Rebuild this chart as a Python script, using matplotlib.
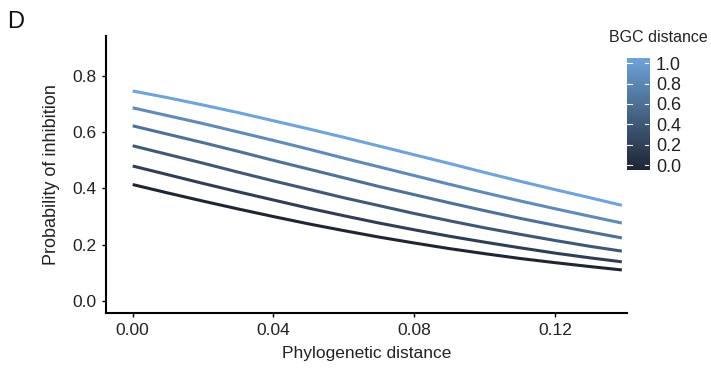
import numpy as np
import matplotlib
matplotlib.use("Agg")
import matplotlib.pyplot as plt
from matplotlib.colors import LinearSegmentedColormap

plt.rcParams["font.family"] = ["Liberation Sans", "DejaVu Sans"]

# values (one curve per BGC distance)
phylo_dist = [0.0, 0.01, 0.02, 0.03, 0.04, 0.05, 0.06, 0.07,
              0.08, 0.09, 0.10, 0.11, 0.12, 0.13, 0.139]
bgc_levels = [0.0, 0.2, 0.4, 0.6, 0.8, 1.0]
prob_bgc_00 = [0.414, 0.384, 0.355, 0.327, 0.300, 0.274, 0.250, 0.227,
               0.206, 0.186, 0.168, 0.151, 0.136, 0.122, 0.110]
prob_bgc_02 = [0.480, 0.449, 0.418, 0.388, 0.359, 0.330, 0.303, 0.277,
               0.253, 0.230, 0.209, 0.189, 0.170, 0.153, 0.139]
prob_bgc_04 = [0.552, 0.521, 0.490, 0.458, 0.427, 0.397, 0.367, 0.339,
               0.311, 0.285, 0.260, 0.237, 0.215, 0.194, 0.177]
prob_bgc_06 = [0.623, 0.593, 0.563, 0.532, 0.500, 0.469, 0.438, 0.407,
               0.378, 0.349, 0.321, 0.294, 0.269, 0.245, 0.224]
prob_bgc_08 = [0.687, 0.659, 0.631, 0.601, 0.571, 0.540, 0.508, 0.477,
               0.446, 0.415, 0.385, 0.356, 0.328, 0.301, 0.277]
prob_bgc_10 = [0.747, 0.723, 0.697, 0.670, 0.641, 0.612, 0.582, 0.551,
               0.520, 0.489, 0.457, 0.426, 0.396, 0.367, 0.340]
all_probs = [prob_bgc_00, prob_bgc_02, prob_bgc_04, prob_bgc_06, prob_bgc_08, prob_bgc_10]

x_ticks = [0.00, 0.04, 0.08, 0.12]
y_ticks = [0.0, 0.2, 0.4, 0.6, 0.8]
cb_ticks = [0.0, 0.2, 0.4, 0.6, 0.8, 1.0]

cmap = LinearSegmentedColormap.from_list("bgc", ["#1f2533", "#6ea4d9"])

fig = plt.figure(figsize=(7.11, 3.73), dpi=100)
ax = fig.add_axes([0.149, 0.161, 0.733, 0.742])

for level, probs in zip(bgc_levels, all_probs):
    ax.plot(phylo_dist, probs, color=cmap(level), lw=2.2, solid_capstyle="butt")

ax.set_xlim(-0.0076, 0.1405)
ax.set_ylim(-0.043, 0.942)
ax.set_xticks(x_ticks)
ax.set_xticklabels([f"{t:.2f}" for t in x_ticks])
ax.set_yticks(y_ticks)
ax.set_yticklabels([f"{t:.1f}" for t in y_ticks])
for s in ["top", "right"]:
    ax.spines[s].set_visible(False)
for s in ["left", "bottom"]:
    ax.spines[s].set_linewidth(1.5)
ax.tick_params(length=3, width=1, labelsize=12.5, colors="black", labelcolor="#222222", pad=4)
ax.set_xlabel("Phylogenetic distance", fontsize=12.5, labelpad=6, color="#222222")
ax.set_ylabel("Probability of inhibition", fontsize=13, labelpad=9, color="#222222")

fig.text(0.0098, 0.940, "D", fontsize=17, color="#111111", va="center")

# colour bar legend
cax = fig.add_axes([0.882, 0.544, 0.031, 0.300])
grad = np.linspace(0, 1, 256).reshape(-1, 1)
cax.imshow(grad, cmap=cmap, aspect="auto", origin="lower", extent=[0, 1, -0.05, 1.05])
cax.set_ylim(-0.05, 1.05)
cax.set_xlim(0, 1)
cax.set_xticks([])
cax.yaxis.tick_right()
cax.set_yticks(cb_ticks)
cax.set_yticklabels([f"{t:.1f}" for t in cb_ticks])
cax.tick_params(axis="y", length=0, labelsize=13, labelcolor="#222222", pad=5)
for t in cb_ticks:
    cax.plot([0, 0.2], [t, t], color="white", lw=0.8)
    cax.plot([0.8, 1], [t, t], color="white", lw=0.8)
for s in cax.spines.values():
    s.set_visible(False)
fig.text(0.926, 0.90, "BGC distance", fontsize=11.5, ha="center", va="center", color="#222222")

fig.savefig("out.png", dpi=100)
